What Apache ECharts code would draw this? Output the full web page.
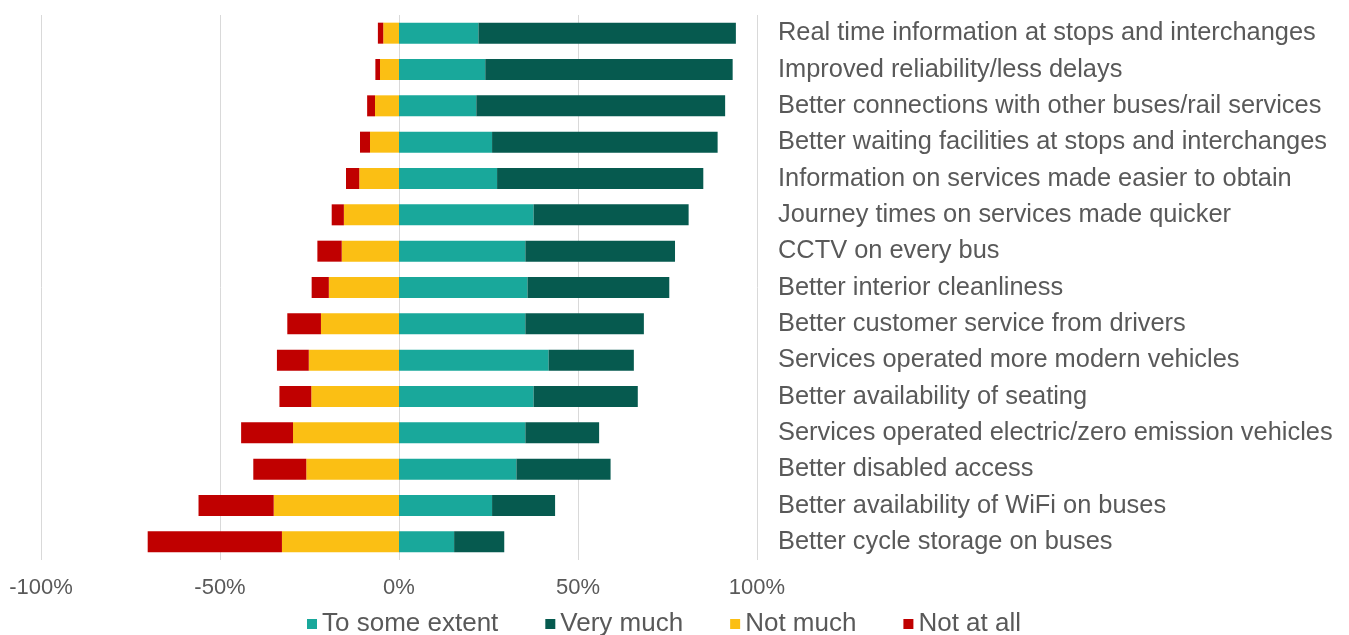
<!DOCTYPE html>
<html>
<head>
<meta charset="utf-8">
<script src="https://cdn.jsdelivr.net/npm/echarts@6/dist/echarts.min.js"></script>
<style>
html,body{margin:0;padding:0;background:#fff;}
#chart{width:1349px;height:635px;}
</style>
</head>
<body>
<div id="chart"></div>
<script>
const categories = [
  "Real time information at stops and interchanges",
  "Improved reliability/less delays",
  "Better connections with other buses/rail services",
  "Better waiting facilities at stops and interchanges",
  "Information on services made easier to obtain",
  "Journey times on services made quicker",
  "CCTV on every bus",
  "Better interior cleanliness",
  "Better customer service from drivers",
  "Services operated more modern vehicles",
  "Better availability of seating",
  "Services operated electric/zero emission vehicles",
  "Better disabled access",
  "Better availability of WiFi on buses",
  "Better cycle storage on buses"
];
const toSomeExtent = [22.2, 24.1, 21.6, 26.0, 27.4, 37.6, 35.3, 35.9, 35.3, 41.8, 37.6, 35.3, 32.8, 26.0, 15.4];
const veryMuch     = [71.9, 69.1, 69.5, 63.0, 57.6, 43.3, 41.8, 39.6, 33.1, 23.8, 29.1, 20.6, 26.3, 17.6, 14.0];
const notMuch      = [-4.4, -5.3, -6.7, -8.1, -11.1, -15.4, -16.0, -19.6, -21.8, -25.2, -24.5, -29.6, -25.9, -35.0, -32.7];
const notAtAll     = [-1.5, -1.3, -2.2, -2.8, -3.7, -3.4, -6.8, -4.8, -9.4, -8.9, -8.9, -14.5, -14.8, -21.0, -37.5];
const seriesNames  = ["To some extent", "Very much", "Not much", "Not at all"];
const xTicks = { min: -100, max: 100, interval: 50 };

const colors = ['#19a89b', '#065a4f', '#fbbf14', '#c00000'];
const font = 'Liberation Sans, Arial, sans-serif';
const chart = echarts.init(document.getElementById('chart'), null, {renderer: 'canvas'});
const mk = (name, data, color) => ({
  name, type: 'bar', stack: 'total', data, barWidth: 21,
  itemStyle: { color }, emphasis: { disabled: true }
});
chart.setOption({
  animation: false,
  textStyle: { fontFamily: font },
  grid: { left: 41, right: 592, top: 15, bottom: 75, containLabel: false },
  legend: {
    left: 302, top: 606,
    itemWidth: 10, itemHeight: 10, itemGap: 47,
    icon: 'rect',
    textStyle: { fontSize: 26, color: '#595959', fontFamily: font },
    data: seriesNames
  },
  xAxis: {
    type: 'value', min: xTicks.min, max: xTicks.max, interval: xTicks.interval,
    axisLine: { show: false }, axisTick: { show: false },
    splitLine: { show: true, lineStyle: { color: '#d9d9d9', width: 1 } },
    axisLabel: { formatter: '{value}%', fontSize: 22, color: '#595959', margin: 17, fontFamily: font }
  },
  yAxis: {
    type: 'category', data: categories, inverse: true, position: 'right',
    axisLine: { show: false }, axisTick: { show: false },
    axisLabel: { fontSize: 25.4, color: '#595959', margin: 21, align: 'left', fontFamily: font, padding: [3, 0, 0, 0] }
  },
  series: [
    mk(seriesNames[0], toSomeExtent, colors[0]),
    mk(seriesNames[1], veryMuch, colors[1]),
    mk(seriesNames[2], notMuch, colors[2]),
    mk(seriesNames[3], notAtAll, colors[3])
  ]
});
</script>
</body>
</html>
